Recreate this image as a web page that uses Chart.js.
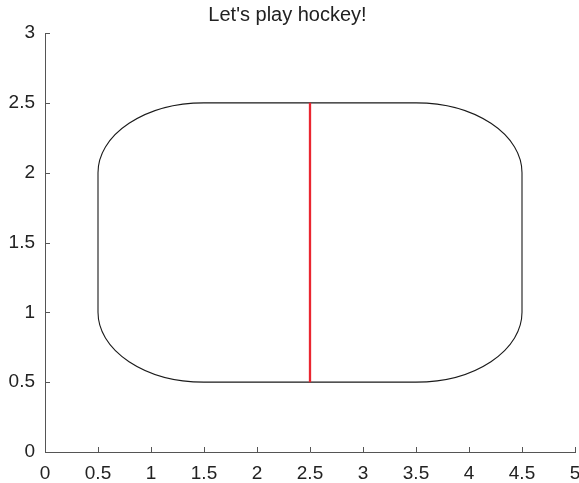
<!DOCTYPE html>
<html>
<head>
<meta charset="utf-8">
<script src="https://cdn.jsdelivr.net/npm/chart.js@4"></script>
<style>
  html, body { margin: 0; padding: 0; background: #fff; }
  canvas { display: block; }
</style>
</head>
<body>
<canvas id="rinkChart" width="579" height="483"></canvas>
<script>
// axis ticks
const xTicks = [0, 0.5, 1, 1.5, 2, 2.5, 3, 3.5, 4, 4.5, 5];
const yTicks = [0, 0.5, 1, 1.5, 2, 2.5, 3];

// rink outline: x extent, y extent, corner radii (x, y) in data units
const rinkX = [0.5, 4.5];
const rinkY = [0.5, 2.5];
const cornerRadius = [1, 0.5];

// red centre line
const centerLineX = [2.5, 2.5];
const centerLineY = [0.5, 2.5];

const axisColor = "#555555";
const fontFamily = "'Liberation Sans', Arial, sans-serif";
const tickFont = { family: fontFamily, size: 19 };

// rounded rink boards drawn with elliptical corners
const rinkPlugin = {
    id: "rink",
    beforeDatasetsDraw(chart) {
        const { ctx, scales: { x, y } } = chart;
        const left = x.getPixelForValue(rinkX[0]);
        const right = x.getPixelForValue(rinkX[1]);
        const top = y.getPixelForValue(rinkY[1]);
        const bottom = y.getPixelForValue(rinkY[0]);
        const rx = x.getPixelForValue(rinkX[0] + cornerRadius[0]) - left;
        const ry = bottom - y.getPixelForValue(rinkY[0] + cornerRadius[1]);

        ctx.save();
        ctx.beginPath();
        ctx.moveTo(left + rx, top);
        ctx.lineTo(right - rx, top);
        ctx.ellipse(right - rx, top + ry, rx, ry, 0, -Math.PI / 2, 0);
        ctx.lineTo(right, bottom - ry);
        ctx.ellipse(right - rx, bottom - ry, rx, ry, 0, 0, Math.PI / 2);
        ctx.lineTo(left + rx, bottom);
        ctx.ellipse(left + rx, bottom - ry, rx, ry, 0, Math.PI / 2, Math.PI);
        ctx.lineTo(left, top + ry);
        ctx.ellipse(left + rx, top + ry, rx, ry, 0, Math.PI, Math.PI * 1.5);
        ctx.closePath();
        ctx.lineWidth = 1.1;
        ctx.strokeStyle = "#1a1a1a";
        ctx.stroke();
        ctx.restore();
    }
};

// tick marks pointing into the plot area
const inwardTicks = {
    id: "inwardTicks",
    afterDraw(chart) {
        const { ctx, scales: { x, y }, chartArea } = chart;
        const len = 5;
        ctx.save();
        ctx.strokeStyle = axisColor;
        ctx.lineWidth = 1;
        ctx.beginPath();
        x.ticks.forEach(function (t) {
            const px = Math.round(x.getPixelForValue(t.value)) + 0.5;
            ctx.moveTo(px, chartArea.bottom);
            ctx.lineTo(px, chartArea.bottom - len);
        });
        y.ticks.forEach(function (t) {
            const py = Math.round(y.getPixelForValue(t.value)) + 0.5;
            ctx.moveTo(chartArea.left, py);
            ctx.lineTo(chartArea.left + len, py);
        });
        ctx.stroke();
        ctx.restore();
    }
};

function plainLabel(value) {
    return String(value);
}

const ctx = document.getElementById("rinkChart").getContext("2d");
new Chart(ctx, {
    type: "scatter",
    data: {
        datasets: [{
            label: "centre line",
            data: centerLineX.map(function (v, i) { return { x: v, y: centerLineY[i] }; }),
            showLine: true,
            borderColor: "#ea2630",
            borderWidth: 2.3,
            pointRadius: 0,
            fill: false
        }]
    },
    options: {
        responsive: false,
        animation: false,
        layout: { padding: { left: 0, right: 4, top: 0, bottom: 0 } },
        plugins: {
            legend: { display: false },
            tooltip: { enabled: false },
            title: {
                display: true,
                text: "Let's play hockey!",
                color: "#222",
                font: { family: fontFamily, size: 20, weight: "normal", lineHeight: 1.2 },
                padding: { top: 3, bottom: 6 }
            }
        },
        scales: {
            x: {
                type: "linear",
                min: 0,
                max: 5,
                afterBuildTicks(scale) { scale.ticks = xTicks.map(function (v) { return { value: v }; }); },
                afterFit(scale) {
                    scale.height = 31;
                    scale.paddingLeft = 0;
                    scale.paddingRight = 0;
                },
                grid: { drawOnChartArea: false, drawTicks: false },
                border: { display: true, color: axisColor, width: 1 },
                ticks: { color: "#222", font: tickFont, padding: 10, maxRotation: 0, autoSkip: false, callback: plainLabel }
            },
            y: {
                type: "linear",
                min: 0,
                max: 3,
                afterBuildTicks(scale) { scale.ticks = yTicks.map(function (v) { return { value: v }; }); },
                afterFit(scale) {
                    scale.width = 45;
                    scale.paddingTop = 0;
                    scale.paddingBottom = 0;
                },
                grid: { drawOnChartArea: false, drawTicks: false },
                border: { display: true, color: axisColor, width: 1 },
                ticks: { color: "#222", font: tickFont, padding: 10, autoSkip: false, callback: plainLabel }
            }
        }
    },
    plugins: [rinkPlugin, inwardTicks]
});
</script>
</body>
</html>
